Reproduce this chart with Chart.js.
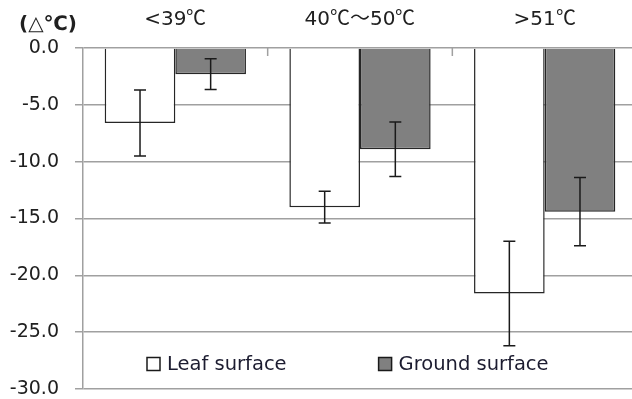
<!DOCTYPE html>
<html><head><meta charset="utf-8">
<script src="https://cdn.jsdelivr.net/npm/chart.js@4.4.0/dist/chart.umd.min.js"></script>
<style>
@font-face { font-family: 'CJKSym'; src: local('Noto Sans CJK JP Regular'), local('NotoSansCJKjp-Regular'), local('Noto Sans CJK JP'), local('Noto Sans CJK SC Regular'), local('NotoSansCJKsc-Regular'), local('Noto Sans CJK SC'); unicode-range: U+2103, U+FF5E; }
html,body{margin:0;padding:0;overflow:hidden;background:#fff;width:632px;height:399px}
#wrap{width:640px;height:399px}
</style></head>
<body><div id="wrap"><canvas id="c" width="640" height="399"></canvas></div>
<script>
const categories = ['<39℃', '40℃～50℃', '>51℃'];
const seriesNames = ['Leaf surface', 'Ground surface'];
const leafValues = [-6.6, -14.0, -21.6];
const leafErrors = [2.9, 1.4, 4.6];
const groundValues = [-2.3, -8.9, -14.4];
const groundErrors = [1.35, 2.4, 3.0];
const yTicks = [0, -5, -10, -15, -20, -25, -30];
const unitLabel = '(△℃)';

const FONT = '"DejaVu Sans", "Noto Sans CJK JP", sans-serif';
const CAT_FONT = 'CJKSym, "DejaVu Sans", "Noto Sans CJK JP", sans-serif';
const TEXT = '#202020';
const GRID = '#a0a0a0';

const errorBars = {
  id: 'errorBars',
  afterDatasetsDraw(chart) {
    const ctx = chart.ctx, ys = chart.scales.y;
    ctx.save();
    ctx.strokeStyle = '#1a1a1a';
    ctx.lineWidth = 1.5;
    chart.data.datasets.forEach((ds, di) => {
      const meta = chart.getDatasetMeta(di);
      meta.data.forEach((bar, i) => {
        const v = ds.data[i], e = ds.errors[i];
        const x = bar.x;
        const y1 = ys.getPixelForValue(v + e), y2 = ys.getPixelForValue(v - e);
        ctx.beginPath();
        ctx.moveTo(x, y1); ctx.lineTo(x, y2);
        ctx.moveTo(x - 6, y1); ctx.lineTo(x + 6, y1);
        ctx.moveTo(x - 6, y2); ctx.lineTo(x + 6, y2);
        ctx.stroke();
      });
    });
    ctx.restore();
  }
};

const extras = {
  id: 'extras',
  afterDraw(chart) {
    const ctx = chart.ctx, xs = chart.scales.x, area = chart.chartArea;
    ctx.save();
    ctx.strokeStyle = GRID; ctx.lineWidth = 1.5;
    for (let i = 0; i < categories.length - 1; i++) {
      const bx = (xs.getPixelForValue(i) + xs.getPixelForValue(i + 1)) / 2;
      ctx.beginPath(); ctx.moveTo(bx, area.top); ctx.lineTo(bx, area.top + 8); ctx.stroke();
    }
    ctx.fillStyle = TEXT;
    ctx.font = 'bold 20px ' + FONT;
    ctx.textAlign = 'center'; ctx.textBaseline = 'middle';
    ctx.fillText(unitLabel, 48, 25);
    ctx.font = '19.5px ' + FONT;
    ctx.textAlign = 'left';
    const cy = area.bottom - 25;
    let x = area.left + 64;
    chart.data.datasets.forEach((ds, di) => {
      ctx.fillStyle = ds.backgroundColor;
      ctx.fillRect(x, cy - 6.5, 13, 13);
      ctx.strokeStyle = '#1a1a1a'; ctx.lineWidth = 1.5;
      ctx.strokeRect(x, cy - 6.5, 13, 13);
      ctx.fillStyle = '#1c1c30';
      ctx.fillText(ds.label, x + 20, cy + 1);
      x += 20 + ctx.measureText(ds.label).width + 92;
    });
    ctx.restore();
  }
};

function draw() {
  new Chart(document.getElementById('c'), {
    type: 'bar',
    data: {
      labels: categories,
      datasets: [
        { label: seriesNames[0], data: leafValues, errors: leafErrors,
          backgroundColor: '#ffffff', borderColor: '#262626', borderWidth: 1.5 },
        { label: seriesNames[1], data: groundValues, errors: groundErrors,
          backgroundColor: '#808080', borderColor: '#262626', borderWidth: 1.5 }
      ]
    },
    options: {
      responsive: false,
      animation: false,
      devicePixelRatio: 1,
      layout: { padding: { left: 0, right: 3, top: 0, bottom: 10 } },
      datasets: { bar: { categoryPercentage: 0.765, barPercentage: 1.0 } },
      plugins: { legend: { display: false }, tooltip: { enabled: false } },
      scales: {
        x: {
          position: 'top',
          grid: { display: false },
          border: { display: false },
          ticks: { color: TEXT, font: { family: CAT_FONT, size: 20 }, padding: 8, maxRotation: 0 },
          afterFit: s => { s.height = 48; s.paddingLeft = 0; s.paddingRight = 0; }
        },
        y: {
          min: -30, max: 0,
          afterBuildTicks: s => { s.ticks = yTicks.map(v => ({ value: v })); },
          grid: { color: GRID, lineWidth: 1.5, tickLength: 8 },
          border: { display: true, color: GRID, width: 1.5 },
          ticks: { color: TEXT, font: { family: FONT, size: 19, lineHeight: 1 }, padding: 16,
                   callback: v => Number(v).toFixed(1) },
          afterFit: s => { s.width = 83; s.paddingTop = 0; s.paddingBottom = 0; }
        }
      }
    },
    plugins: [errorBars, extras]
  });
}

const fontReady = document.fonts.load('20px CJKSym', '℃～').catch(() => null);
Promise.race([fontReady, new Promise(r => setTimeout(r, 1500))]).then(draw, draw);
</script>
</body></html>
